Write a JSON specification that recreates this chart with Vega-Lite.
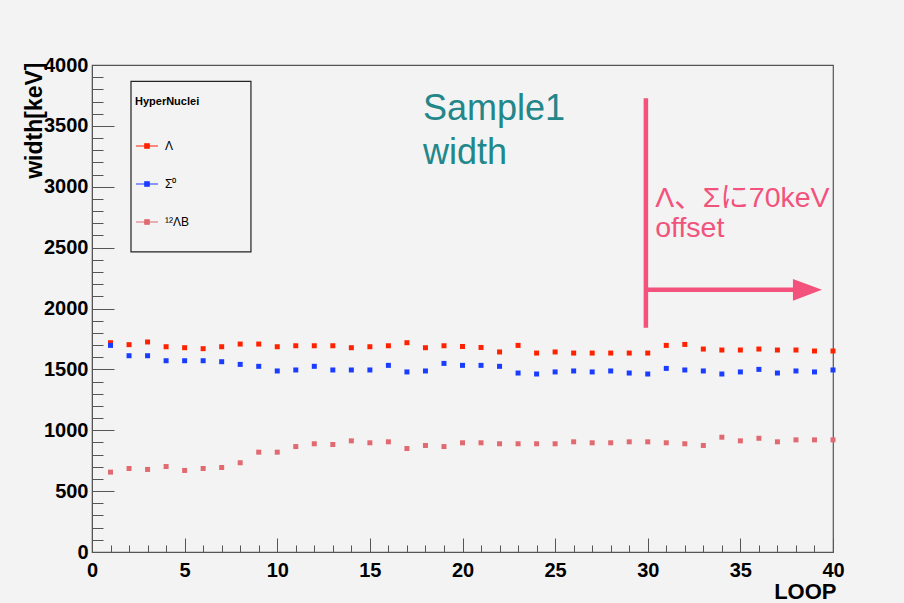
{
  "$schema": "https://vega.github.io/schema/vega-lite/v6.json",
  "width": 741,
  "height": 487,
  "autosize": {"type": "none"},
  "padding": {"left": 92, "top": 65, "right": 71, "bottom": 51},
  "background": "#f3f3f3",
  "config": {
    "view": {"stroke": "#555555", "strokeWidth": 1.2},
    "font": "Liberation Sans"
  },
  "layer": [
    {
      "data": {"values": [{}]},
      "mark": {"type": "rect", "fill": "#f3f3f3", "stroke": "#222222", "strokeWidth": 1.2},
      "encoding": {
        "x": {"datum": 2.105, "type": "quantitative", "scale": {"domain": [0, 40], "nice": false}},
        "x2": {"datum": 8.58},
        "y": {"datum": 3866, "type": "quantitative", "scale": {"domain": [0, 4000], "nice": false}},
        "y2": {"datum": 2465}
      }
    },
    {
      "data": {"values": [
        {"loop":1,"value":1719,"series":"Λ"},{"loop":2,"value":1703,"series":"Λ"},{"loop":3,"value":1725,"series":"Λ"},{"loop":4,"value":1686,"series":"Λ"},{"loop":5,"value":1678,"series":"Λ"},
        {"loop":6,"value":1670,"series":"Λ"},{"loop":7,"value":1686,"series":"Λ"},{"loop":8,"value":1708,"series":"Λ"},{"loop":9,"value":1708,"series":"Λ"},{"loop":10,"value":1686,"series":"Λ"},
        {"loop":11,"value":1694,"series":"Λ"},{"loop":12,"value":1694,"series":"Λ"},{"loop":13,"value":1694,"series":"Λ"},{"loop":14,"value":1678,"series":"Λ"},{"loop":15,"value":1686,"series":"Λ"},
        {"loop":16,"value":1694,"series":"Λ"},{"loop":17,"value":1719,"series":"Λ"},{"loop":18,"value":1678,"series":"Λ"},{"loop":19,"value":1694,"series":"Λ"},{"loop":20,"value":1688,"series":"Λ"},
        {"loop":21,"value":1680,"series":"Λ"},{"loop":22,"value":1643,"series":"Λ"},{"loop":23,"value":1697,"series":"Λ"},{"loop":24,"value":1634,"series":"Λ"},{"loop":25,"value":1643,"series":"Λ"},
        {"loop":26,"value":1634,"series":"Λ"},{"loop":27,"value":1634,"series":"Λ"},{"loop":28,"value":1634,"series":"Λ"},{"loop":29,"value":1634,"series":"Λ"},{"loop":30,"value":1634,"series":"Λ"},
        {"loop":31,"value":1697,"series":"Λ"},{"loop":32,"value":1705,"series":"Λ"},{"loop":33,"value":1667,"series":"Λ"},{"loop":34,"value":1659,"series":"Λ"},{"loop":35,"value":1659,"series":"Λ"},
        {"loop":36,"value":1667,"series":"Λ"},{"loop":37,"value":1659,"series":"Λ"},{"loop":38,"value":1659,"series":"Λ"},{"loop":39,"value":1651,"series":"Λ"},{"loop":40,"value":1651,"series":"Λ"},
        {"loop":1,"value":1697,"series":"Σ⁰"},{"loop":2,"value":1612,"series":"Σ⁰"},{"loop":3,"value":1612,"series":"Σ⁰"},{"loop":4,"value":1571,"series":"Σ⁰"},{"loop":5,"value":1571,"series":"Σ⁰"},
        {"loop":6,"value":1571,"series":"Σ⁰"},{"loop":7,"value":1563,"series":"Σ⁰"},{"loop":8,"value":1541,"series":"Σ⁰"},{"loop":9,"value":1525,"series":"Σ⁰"},{"loop":10,"value":1487,"series":"Σ⁰"},
        {"loop":11,"value":1495,"series":"Σ⁰"},{"loop":12,"value":1525,"series":"Σ⁰"},{"loop":13,"value":1495,"series":"Σ⁰"},{"loop":14,"value":1495,"series":"Σ⁰"},{"loop":15,"value":1495,"series":"Σ⁰"},
        {"loop":16,"value":1533,"series":"Σ⁰"},{"loop":17,"value":1479,"series":"Σ⁰"},{"loop":18,"value":1487,"series":"Σ⁰"},{"loop":19,"value":1549,"series":"Σ⁰"},{"loop":20,"value":1533,"series":"Σ⁰"},
        {"loop":21,"value":1533,"series":"Σ⁰"},{"loop":22,"value":1525,"series":"Σ⁰"},{"loop":23,"value":1470,"series":"Σ⁰"},{"loop":24,"value":1462,"series":"Σ⁰"},{"loop":25,"value":1479,"series":"Σ⁰"},
        {"loop":26,"value":1487,"series":"Σ⁰"},{"loop":27,"value":1479,"series":"Σ⁰"},{"loop":28,"value":1487,"series":"Σ⁰"},{"loop":29,"value":1470,"series":"Σ⁰"},{"loop":30,"value":1462,"series":"Σ⁰"},
        {"loop":31,"value":1508,"series":"Σ⁰"},{"loop":32,"value":1495,"series":"Σ⁰"},{"loop":33,"value":1487,"series":"Σ⁰"},{"loop":34,"value":1462,"series":"Σ⁰"},{"loop":35,"value":1479,"series":"Σ⁰"},
        {"loop":36,"value":1500,"series":"Σ⁰"},{"loop":37,"value":1470,"series":"Σ⁰"},{"loop":38,"value":1487,"series":"Σ⁰"},{"loop":39,"value":1479,"series":"Σ⁰"},{"loop":40,"value":1495,"series":"Σ⁰"},
        {"loop":1,"value":656,"series":"¹²ΛB"},{"loop":2,"value":686,"series":"¹²ΛB"},{"loop":3,"value":678,"series":"¹²ΛB"},{"loop":4,"value":702,"series":"¹²ΛB"},{"loop":5,"value":670,"series":"¹²ΛB"},
        {"loop":6,"value":686,"series":"¹²ΛB"},{"loop":7,"value":694,"series":"¹²ΛB"},{"loop":8,"value":733,"series":"¹²ΛB"},{"loop":9,"value":820,"series":"¹²ΛB"},{"loop":10,"value":820,"series":"¹²ΛB"},
        {"loop":11,"value":866,"series":"¹²ΛB"},{"loop":12,"value":889,"series":"¹²ΛB"},{"loop":13,"value":883,"series":"¹²ΛB"},{"loop":14,"value":913,"series":"¹²ΛB"},{"loop":15,"value":897,"series":"¹²ΛB"},
        {"loop":16,"value":905,"series":"¹²ΛB"},{"loop":17,"value":850,"series":"¹²ΛB"},{"loop":18,"value":875,"series":"¹²ΛB"},{"loop":19,"value":866,"series":"¹²ΛB"},{"loop":20,"value":897,"series":"¹²ΛB"},
        {"loop":21,"value":897,"series":"¹²ΛB"},{"loop":22,"value":889,"series":"¹²ΛB"},{"loop":23,"value":889,"series":"¹²ΛB"},{"loop":24,"value":889,"series":"¹²ΛB"},{"loop":25,"value":889,"series":"¹²ΛB"},
        {"loop":26,"value":905,"series":"¹²ΛB"},{"loop":27,"value":897,"series":"¹²ΛB"},{"loop":28,"value":897,"series":"¹²ΛB"},{"loop":29,"value":905,"series":"¹²ΛB"},{"loop":30,"value":905,"series":"¹²ΛB"},
        {"loop":31,"value":897,"series":"¹²ΛB"},{"loop":32,"value":889,"series":"¹²ΛB"},{"loop":33,"value":875,"series":"¹²ΛB"},{"loop":34,"value":943,"series":"¹²ΛB"},{"loop":35,"value":913,"series":"¹²ΛB"},
        {"loop":36,"value":934,"series":"¹²ΛB"},{"loop":37,"value":905,"series":"¹²ΛB"},{"loop":38,"value":921,"series":"¹²ΛB"},{"loop":39,"value":921,"series":"¹²ΛB"},{"loop":40,"value":921,"series":"¹²ΛB"}
      ]},
      "mark": {"type": "point", "shape": "square", "filled": true, "size": 25, "opacity": 1},
      "encoding": {
        "x": {
          "field": "loop", "type": "quantitative",
          "scale": {"domain": [0, 40], "nice": false},
          "axis": {
            "values": [0,1,2,3,4,5,6,7,8,9,10,11,12,13,14,15,16,17,18,19,20,21,22,23,24,25,26,27,28,29,30,31,32,33,34,35,36,37,38,39,40],
            "tickCount": 41,
            "labelOverlap": false,
            "tickSize": {"condition": {"test": "datum.value % 5 === 0", "value": -14}, "value": -7},
            "tickColor": "#555555",
            "domainColor": "#555555",
            "grid": false,
            "labelExpr": "datum.value % 5 === 0 ? datum.label : ''",
            "labelPadding": 22,
            "labelFlush": false,
            "labelFont": "Liberation Sans",
            "labelFontSize": 20,
            "labelFontWeight": "bold",
            "labelColor": "#000000",
            "title": "LOOP",
            "titleFont": "Liberation Sans",
            "titleFontSize": 22,
            "titleFontWeight": "bold",
            "titleColor": "#000000",
            "titleAlign": "right",
            "titleBaseline": "alphabetic",
            "titleAnchor": "end",
            "titleX": 744,
            "titleY": 46
          }
        },
        "y": {
          "field": "value", "type": "quantitative",
          "scale": {"domain": [0, 4000], "nice": false},
          "axis": {
            "values": [0,100,200,300,400,500,600,700,800,900,1000,1100,1200,1300,1400,1500,1600,1700,1800,1900,2000,2100,2200,2300,2400,2500,2600,2700,2800,2900,3000,3100,3200,3300,3400,3500,3600,3700,3800,3900,4000],
            "tickCount": 41,
            "labelOverlap": false,
            "tickSize": {"condition": {"test": "datum.value % 500 === 0", "value": -22}, "value": -11},
            "tickColor": "#555555",
            "domainColor": "#555555",
            "grid": false,
            "labelExpr": "datum.value % 500 === 0 ? '' + datum.value : ''",
            "labelPadding": 26,
            "labelFlush": false,
            "labelFont": "Liberation Sans",
            "labelFontSize": 20,
            "labelFontWeight": "bold",
            "labelColor": "#000000",
            "title": "width[keV]",
            "titleFont": "Liberation Sans",
            "titleFontSize": 23,
            "titleFontWeight": "bold",
            "titleColor": "#000000",
            "titleAngle": 270,
            "titleAlign": "right",
            "titleBaseline": "alphabetic",
            "titleX": -51,
            "titleY": -3
          }
        },
        "color": {
          "field": "series", "type": "nominal",
          "scale": {"domain": ["Λ", "Σ⁰", "¹²ΛB"], "range": ["#ff2200", "#1a3cff", "#e06a70"]},
          "legend": {
            "title": "HyperNuclei",
            "orient": "none",
            "legendX": 43,
            "legendY": 31,
            "padding": 0,
            "titleFont": "Liberation Sans",
            "titleFontSize": 11,
            "titleFontWeight": "bold",
            "titleColor": "#000000",
            "titleBaseline": "top",
            "titlePadding": 27,
            "labelFont": "Liberation Sans",
            "labelFontSize": 12,
            "labelColor": "#000000",
            "labelOffset": 6,
            "rowPadding": 20,
            "symbolType": "M-1,0H1M-0.2,-0.2H0.2V0.2H-0.2Z",
            "symbolSize": 484,
            "symbolStrokeWidth": 1.2,
            "symbolOpacity": 1,
            "encode": {
              "symbols": {
                "update": {
                  "stroke": {"scale": "color", "field": "value"},
                  "strokeWidth": {"value": 1.2}
                }
              }
            }
          }
        }
      }
    },
    {
      "data": {"values": [{}]},
      "mark": {"type": "rule", "color": "#f2527c", "strokeWidth": 4.5},
      "encoding": {
        "x": {"datum": 29.9, "type": "quantitative"},
        "y": {"datum": 1842, "type": "quantitative"},
        "y2": {"datum": 3727}
      }
    },
    {
      "data": {"values": [{}]},
      "mark": {"type": "rule", "color": "#f2527c", "strokeWidth": 4.5},
      "encoding": {
        "x": {"datum": 29.9, "type": "quantitative"},
        "x2": {"datum": 37.95},
        "y": {"datum": 2153, "type": "quantitative"}
      }
    },
    {
      "data": {"values": [{}]},
      "mark": {"type": "point", "shape": "M-1,-0.75L1,0L-1,0.75Z", "filled": true, "size": 841, "color": "#f2527c", "opacity": 1},
      "encoding": {
        "x": {"datum": 38.62, "type": "quantitative"},
        "y": {"datum": 2153, "type": "quantitative"}
      }
    },
    {
      "data": {"values": [{}]},
      "mark": {"type": "text", "text": ["Sample1", "width"], "align": "left", "baseline": "alphabetic", "font": "Liberation Sans", "fontSize": 36, "lineHeight": 44, "color": "#23878a"},
      "encoding": {
        "x": {"datum": 17.87, "type": "quantitative"},
        "y": {"datum": 3547, "type": "quantitative"}
      }
    },
    {
      "data": {"values": [{}]},
      "mark": {"type": "text", "text": ["Λ、Σに70keV", "offset"], "align": "left", "baseline": "alphabetic", "font": "Liberation Sans, Noto Sans CJK JP", "fontSize": 28.5, "lineHeight": 30, "color": "#f2527c"},
      "encoding": {
        "x": {"datum": 30.4, "type": "quantitative"},
        "y": {"datum": 2834, "type": "quantitative"}
      }
    }
  ]
}
